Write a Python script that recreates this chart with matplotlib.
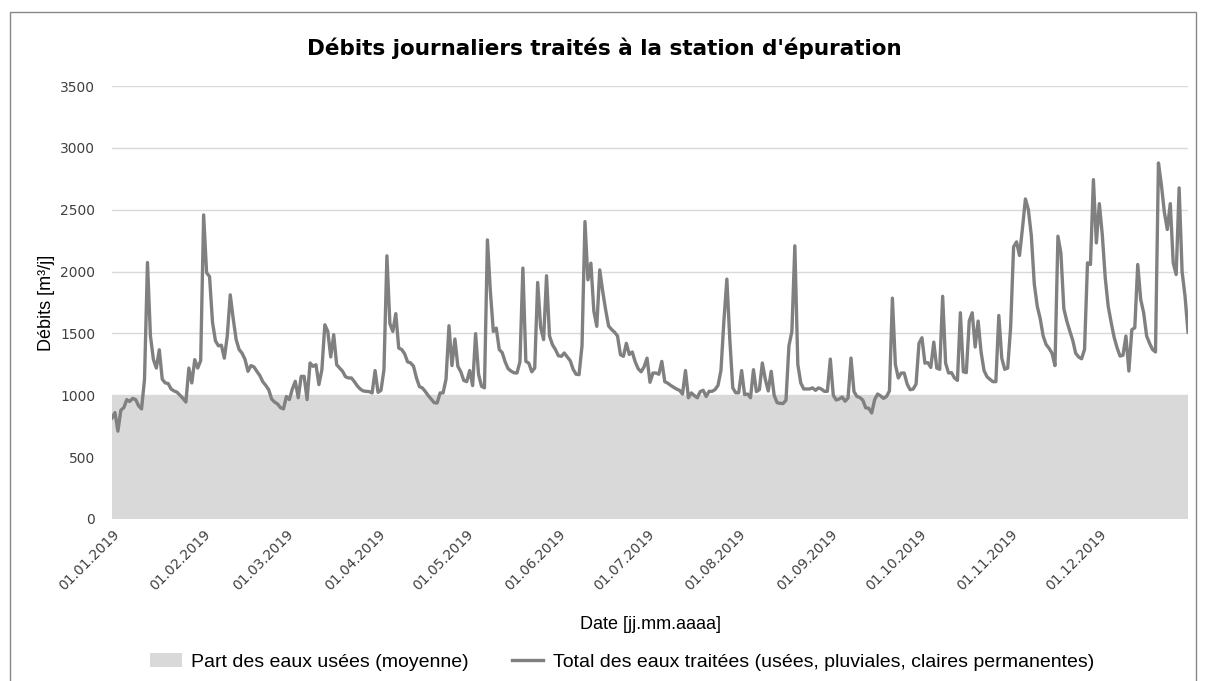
import matplotlib
matplotlib.use('Agg')
import matplotlib.pyplot as plt
import matplotlib.dates as mdates
from matplotlib.patches import Patch, Rectangle
from matplotlib.lines import Line2D
import pandas as pd

# debits journaliers, un tableau par mois [m3/j]
jan = [817, 860, 710, 880, 900, 965, 950, 975, 965, 915, 890, 1130, 2073, 1480, 1290, 1220,
       1368, 1130, 1100, 1095, 1050, 1035, 1025, 1000, 975, 945, 1220, 1100, 1288, 1220, 1280]
feb = [2458, 1990, 1960, 1590, 1440, 1400, 1405, 1300, 1480, 1812, 1620, 1450, 1370, 1340,
       1290, 1194, 1240, 1230, 1194, 1160, 1110, 1080, 1046, 970, 945, 930, 900, 890]
mar = [990, 965, 1050, 1113, 980, 1153, 1153, 965, 1261, 1234, 1247, 1086, 1207, 1570, 1516,
       1310, 1490, 1247, 1220, 1194, 1150, 1140, 1140, 1110, 1075, 1050, 1035, 1032, 1030, 1019, 1200]
apr = [1024, 1040, 1207, 2127, 1580, 1516, 1660, 1382, 1370, 1335, 1270, 1262, 1235, 1140, 1070,
       1059, 1030, 997, 968, 940, 938, 1019, 1019, 1130, 1562, 1240, 1455, 1234, 1190, 1120]
may = [1110, 1200, 1078, 1498, 1170, 1073, 1060, 2256, 1840, 1516, 1543, 1370, 1345, 1270, 1215,
       1195, 1182, 1180, 1270, 2028, 1274, 1260, 1190, 1220, 1912, 1550, 1450, 1966, 1480, 1409, 1370]
jun = [1320, 1315, 1342, 1310, 1280, 1210, 1170, 1167, 1400, 2404, 1933, 2068, 1680, 1557, 2014,
       1840, 1690, 1560, 1532, 1510, 1480, 1328, 1315, 1420, 1330, 1350, 1270, 1215, 1190, 1230]
jul = [1300, 1105, 1180, 1180, 1170, 1274, 1110, 1098, 1080, 1065, 1050, 1040, 1010, 1200, 980,
       1019, 997, 980, 1030, 1040, 990, 1032, 1032, 1046, 1080, 1200, 1600, 1939, 1450, 1060, 1020]
aug = [1020, 1200, 1005, 1010, 980, 1207, 1030, 1046, 1261, 1130, 1035, 1194, 1000, 940, 935,
       933, 960, 1400, 1516, 2208, 1250, 1100, 1051, 1051, 1051, 1060, 1040, 1060, 1050, 1032, 1032]
sep = [1293, 1000, 962, 970, 986, 952, 978, 1301, 1030, 990, 982, 960, 898, 895, 857,
       965, 1010, 995, 975, 990, 1035, 1785, 1250, 1140, 1180, 1180, 1090, 1045, 1050, 1090]
oct_ = [1420, 1465, 1260, 1264, 1225, 1430, 1220, 1210, 1800, 1260, 1180, 1183, 1140, 1120, 1667,
        1190, 1183, 1600, 1667, 1390, 1600, 1350, 1200, 1150, 1129, 1110, 1110, 1645, 1300, 1210, 1220]
nov = [1550, 2200, 2240, 2130, 2350, 2587, 2500, 2290, 1900, 1720, 1620, 1480, 1410, 1380, 1340,
       1240, 2286, 2150, 1700, 1600, 1520, 1445, 1340, 1310, 1295, 1371, 2071, 2057, 2743, 2232]
dec = [2549, 2300, 1950, 1720, 1590, 1470, 1385, 1317, 1323, 1479, 1196, 1530, 1546, 2057, 1775,
       1667, 1480, 1420, 1370, 1350, 2878, 2700, 2480, 2340, 2549, 2071, 1976, 2676, 2000, 1800, 1510]

total = jan + feb + mar + apr + may + jun + jul + aug + sep + oct_ + nov + dec
eaux_usees = 1000  # part moyenne des eaux usees

dates = pd.date_range('2019-01-01', '2019-12-31', freq='D')
mois = pd.date_range('2019-01-01', '2019-12-01', freq='MS')

fig = plt.figure(figsize=(12.08, 6.81), dpi=100)
ax = fig.add_axes([112/1208, 1-519/681, (1188-112)/1208, (519-86)/681])

ax.fill_between(dates, 0, eaux_usees, color='#d9d9d9', lw=0, zorder=1)
ax.plot(dates, total, color='#808080', lw=2.4, zorder=3)

ax.set_xlim(dates[0], dates[-1])
ax.set_ylim(0, 3500)
ax.set_yticks(range(0, 3501, 500))
ax.yaxis.grid(True, color='#d9d9d9', lw=1)
ax.set_axisbelow(True)
ax.set_xticks(mois)
ax.xaxis.set_major_formatter(mdates.DateFormatter('%d.%m.%Y'))
ax.tick_params(length=0, labelsize=10, colors='#404040')
ax.tick_params(axis='y', pad=12)
ax.tick_params(axis='x', pad=6)
for lab in ax.get_xticklabels():
    lab.set_rotation(45)
    lab.set_ha('right')
    lab.set_rotation_mode('anchor')
for s in ax.spines.values():
    s.set_visible(False)

ax.set_ylabel('Débits [m³/j]', fontsize=13, family='Liberation Sans', labelpad=4)
ax.set_xlabel('Date [jj.mm.aaaa]', fontsize=13, family='Liberation Sans', labelpad=16)

fig.text(0.5, 1-48/681, "Débits journaliers traités à la station d'épuration",
         ha='center', va='center', fontsize=15.5, fontweight='bold')

handles = [Patch(facecolor='#d9d9d9', edgecolor='none'),
           Line2D([0], [0], color='#808080', lw=2.4)]
fig.legend(handles, ['Part des eaux usées (moyenne)',
                     'Total des eaux traitées (usées, pluviales, claires permanentes)'],
           loc='center', bbox_to_anchor=(0.515, 1-662/681), ncol=2, frameon=False,
           prop={'family': 'Liberation Sans', 'size': 14}, columnspacing=2.2,
           handlelength=1.6, handletextpad=0.5)

fig.patches.append(Rectangle((10/1208, -0.01), 1186/1208, (681-12)/681+0.01,
                             transform=fig.transFigure, fill=False, edgecolor='#888888', lw=1))

fig.savefig('out.png', dpi=100)
